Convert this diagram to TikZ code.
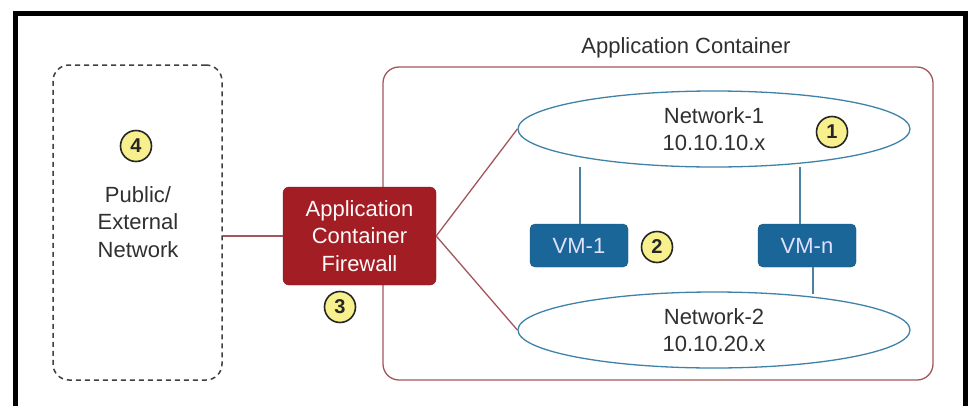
\documentclass[tikz,border=0pt]{standalone}
\usepackage{fontspec}
\setmainfont{Liberation Sans}
\usetikzlibrary{shapes.geometric}
\definecolor{frred}{HTML}{A31D24}
\definecolor{contred}{HTML}{A3555C}
\definecolor{vmblue}{HTML}{1B6698}
\definecolor{netblue}{HTML}{3F82A8}
\definecolor{badgey}{HTML}{F7F08C}
\definecolor{txt}{HTML}{303030}
\tikzset{
  lbl/.style={font=\fontsize{22}{27.5}\selectfont, text=txt, align=center, inner sep=0pt},
  badge/.style={circle, draw=black!85, line width=1.6pt, fill=badgey, minimum size=31pt, inner sep=0pt, font=\fontsize{20}{20}\selectfont\bfseries, text=black!85},
  fwbox/.style={draw=frred!80!black, fill=frred, rounded corners=6pt, minimum width=153pt, minimum height=98pt, text=white!90!pink, align=center, font=\fontsize{22}{27.5}\selectfont, inner sep=0pt},
  vmbox/.style={draw=vmblue!80!black, fill=vmblue, rounded corners=5pt, minimum width=98pt, minimum height=43pt, text=white!88!blue, font=\fontsize{22}{22}\selectfont, inner sep=0pt},
  netell/.style={ellipse, draw=netblue, line width=1.3pt, fill=white, minimum width=392pt, minimum height=76pt, inner sep=0pt, align=center, font=\fontsize{22}{27.5}\selectfont, text=txt},
  redline/.style={draw=contred, line width=1.3pt},
  blueline/.style={draw=netblue!85!gray, line width=1.3pt}
}
\begin{document}
\begin{tikzpicture}[x=1pt,y=-1pt]
\useasboundingbox (0,0) rectangle (970,405);
\fill[white] (0,0) rectangle (970,405);
% outer frame (open at bottom)
\draw[line width=5pt, line join=miter] (15.5,410) -- (15.5,13.5) -- (965.5,13.5) -- (965.5,410);
% external network dashed box
\node[draw=black!75, dashed, dash pattern=on 5pt off 4pt, line width=1.5pt, rounded corners=16pt, minimum width=169pt, minimum height=315pt, inner sep=0pt] (ext) at (137.5,222.5) {};
% application container
\node[draw=contred, line width=1.3pt, rounded corners=16pt, minimum width=550pt, minimum height=313pt, inner sep=0pt] (cont) at (658,223.5) {};
\node[lbl] (contlbl) at (686,48) {Application Container};
% networks
\node[netell] (net1) at (714,129) {Network-1\\10.10.10.x};
\node[netell] (net2) at (714,330) {Network-2\\10.10.20.x};
% VMs
\node[vmbox] (vm1) at (579,245.5) {VM-1};
\node[vmbox] (vmn) at (807,245.5) {VM-n};
\draw[blueline] (vm1.north -| 580,0) -- (580,167);
\draw[blueline] (vmn.north -| 800,0) -- (800,167);
\draw[blueline] (vmn.south -| 813,0) -- (813,294);
% firewall
\node[fwbox] (fw) at (359.5,236) {Application\\Container\\Firewall};
\draw[redline] (fw.west -| ext.east) -- (fw.west);
\draw[redline] (fw.east) -- (net1.west);
\draw[redline] (fw.east) -- (net2.west);
\node[lbl] (extlbl) at (138,222) {Public/\\External\\Network};
% badges
\node[badge] (b1) at (832,132) {1};
\node[badge] (b2) at (657,247) {2};
\node[badge] (b3) at (340,307) {3};
\node[badge] (b4) at (136,146) {4};
\end{tikzpicture}
\end{document}
